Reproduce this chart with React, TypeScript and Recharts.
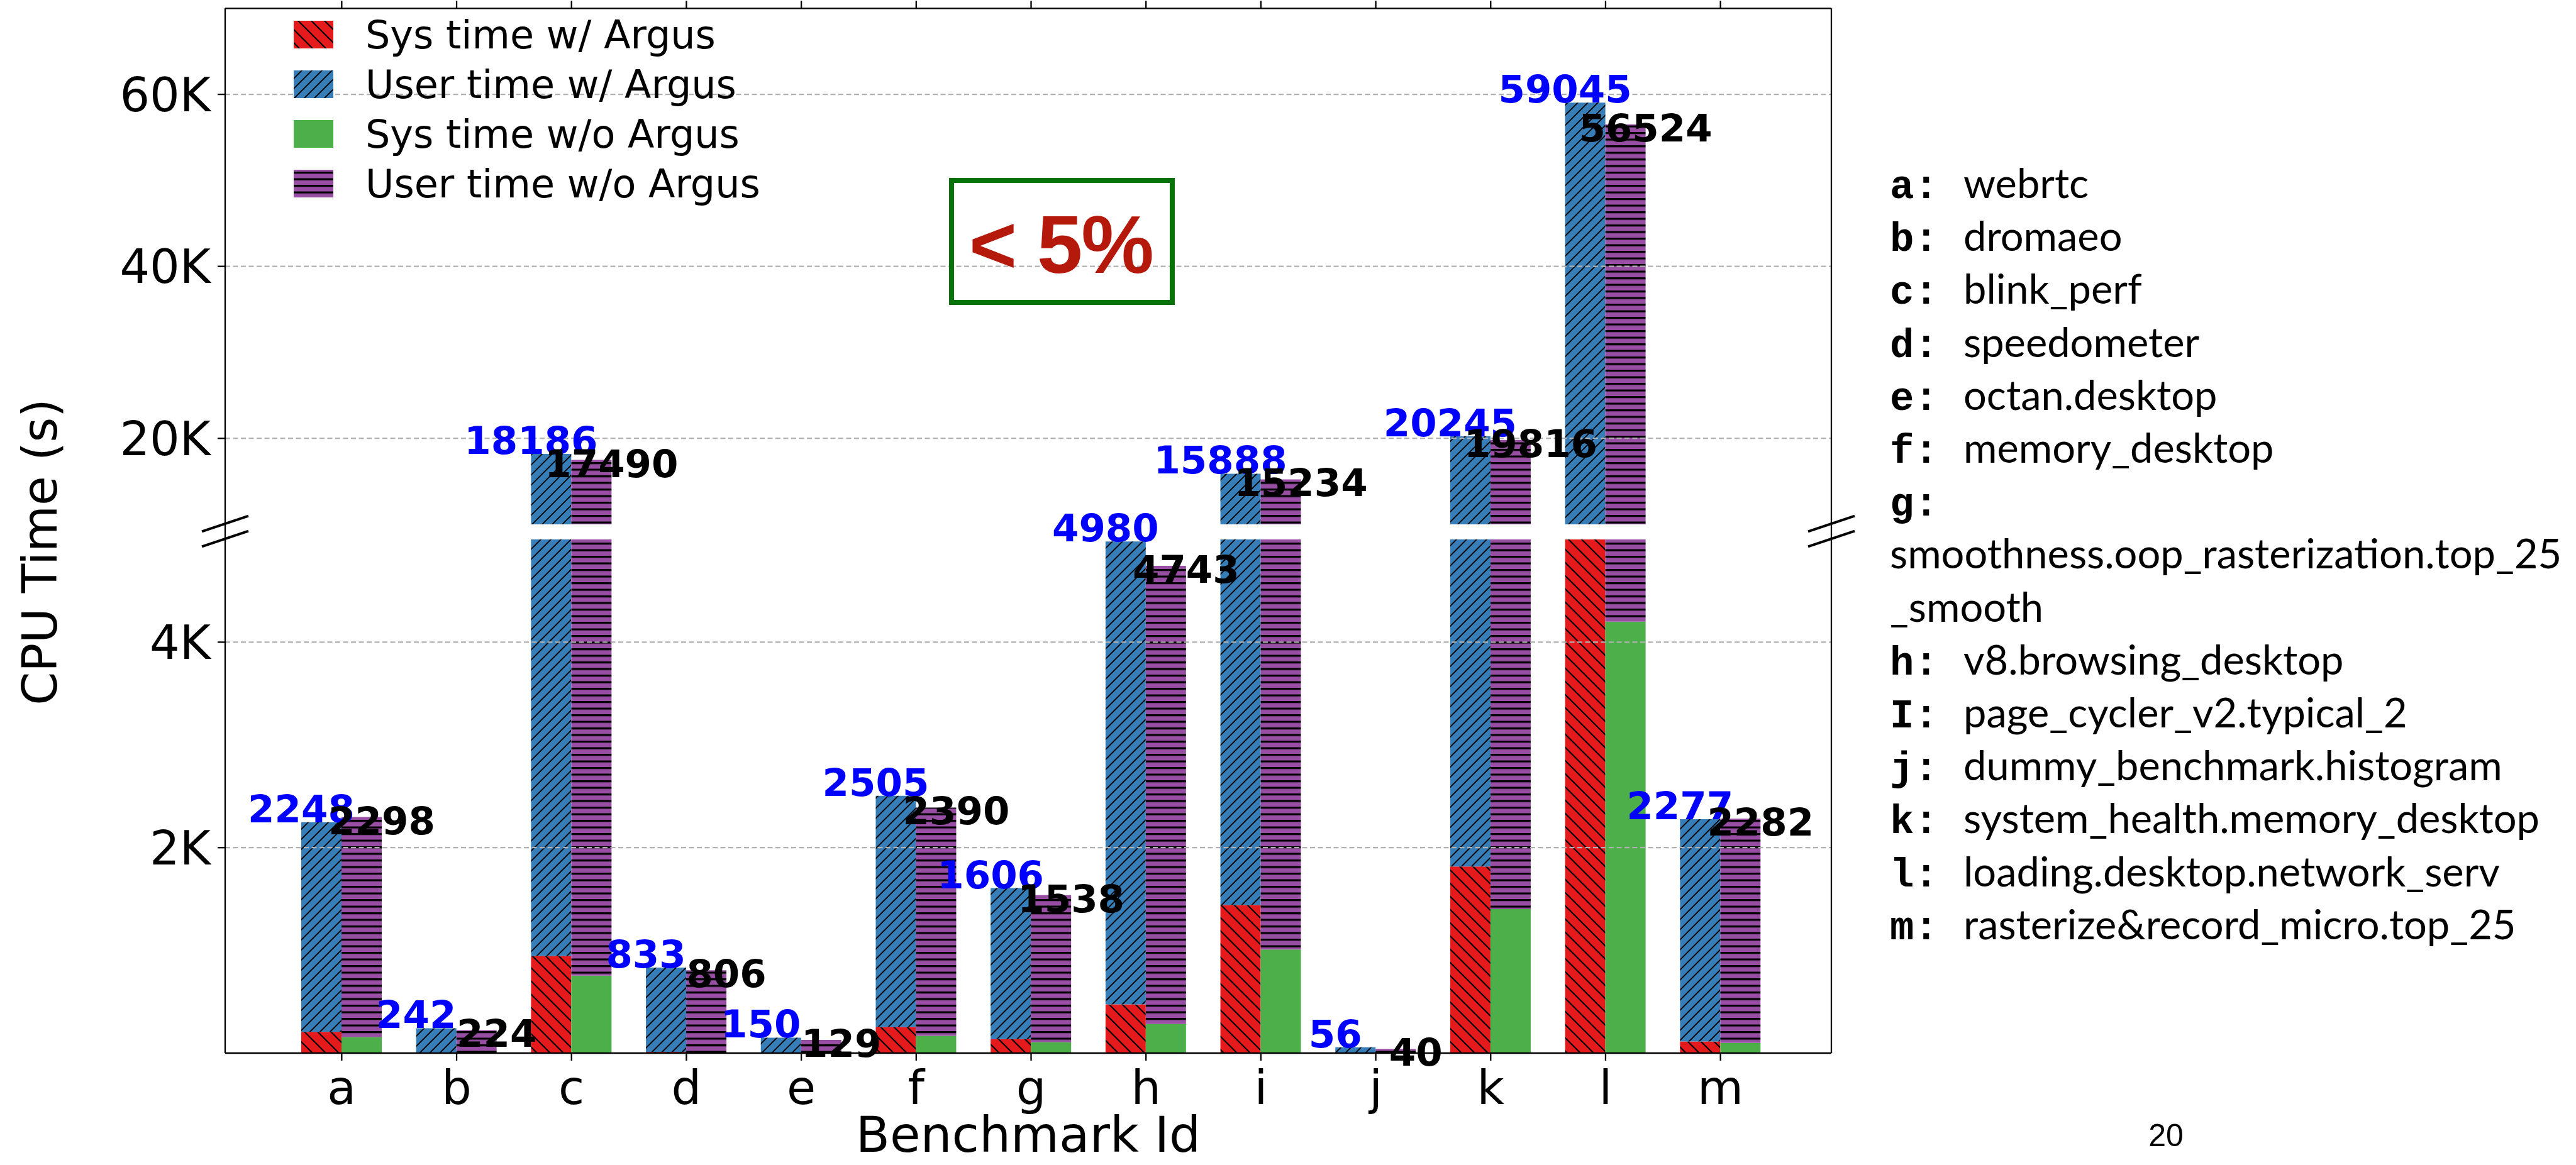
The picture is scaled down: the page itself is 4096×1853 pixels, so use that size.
import React from 'react';
import { BarChart, Bar, XAxis, YAxis, CartesianGrid, LabelList } from 'recharts';

// benchmark ids on the x axis
const benchmarkIds = ['a', 'b', 'c', 'd', 'e', 'f', 'g', 'h', 'i', 'j', 'k', 'l', 'm'];

// totals printed above the bars
const totalWithArgus = [2248, 242, 18186, 833, 150, 2505, 1606, 4980, 15888, 56, 20245, 59045, 2277];
const totalWithoutArgus = [2298, 224, 17490, 806, 129, 2390, 1538, 4743, 15234, 40, 19816, 56524, 2282];

// sys time parts
const sysWithArgus = [207, 0, 946, 13, 0, 254, 136, 475, 1441, 0, 1816, 6200, 113];
const sysWithoutArgus = [155, 0, 755, 0, 0, 168, 105, 283, 1009, 0, 1402, 4200, 100];

const seriesNames = ['Sys time w/ Argus', 'User time w/ Argus', 'Sys time w/o Argus', 'User time w/o Argus'];

const topDomain = [10000, 70000];
const bottomDomain = [0, 5000];
const topTicks = [20000, 40000, 60000];
const bottomTicks = [2000, 4000];

const legendKeys = ['a:', 'b:', 'c:', 'd:', 'e:', 'f:', 'g:', '', '', 'h:', 'I:', 'j:', 'k:', 'l:', 'm:'];
const legendNames = [
  'webrtc',
  'dromaeo',
  'blink_perf',
  'speedometer',
  'octan.desktop',
  'memory_desktop',
  '',
  'smoothness.oop_rasterization.top_25',
  '_smooth',
  'v8.browsing_desktop',
  'page_cycler_v2.typical_2',
  'dummy_benchmark.histogram',
  'system_health.memory_desktop',
  'loading.desktop.network_serv',
  'rasterize&record_micro.top_25',
];

const rows = benchmarkIds.map((id, i) => ({
  id,
  sysW: sysWithArgus[i],
  userW: totalWithArgus[i] - sysWithArgus[i],
  sysWo: sysWithoutArgus[i],
  userWo: totalWithoutArgus[i] - sysWithoutArgus[i],
  totalW: totalWithArgus[i],
  totalWo: totalWithoutArgus[i],
}));

// layout (px)
const CHART_W = 3000;
const PLOT_LEFT = 358;
const PLOT_RIGHT = 2912;
const TOP_Y0 = 13.3;
const TOP_Y1 = 834;
const BOT_Y0 = 858;
const BOT_Y1 = 1675;
const BOT_PAD = 100;
const X_AXIS_H = 178;
const TOP_AXIS_H = 12;
const BAR_W = 64;
const X_PAD = { left: 94, right: 85 };

const RED = '#e41a1c';
const BLUE = '#377eb8';
const GREEN = '#4daf4a';
const PURPLE = '#984ea3';
const GRID = '#b0b0b0';
const SANS = 'DejaVu Sans';

const tickStyle = { fontSize: 75, fill: '#000', fontFamily: SANS };
const lineStyle = { stroke: '#000', strokeWidth: 2.3 };
const kFormat = (v: number) => `${v / 1000}K`;

function makeLabel(lo: number, hi: number, color: string, side: 'left' | 'right') {
  return (props: any) => {
    const vb = props.viewBox ?? props;
    const x = Number(vb.x);
    const y = Number(vb.y);
    const w = Number(vb.width);
    const h = Number(vb.height);
    const v = Number(props.value);
    if (!(v >= lo && v <= hi)) return null;
    const top = h < 0 ? y + h : y;
    const cx = side === 'left' ? x : x + w;
    const dy = side === 'left' ? 0 : 27;
    return (
      <text x={cx} y={top + dy} textAnchor="middle" fill={color} fontSize={61} fontWeight="bold" fontFamily={SANS}>
        {v}
      </text>
    );
  };
}

function Panel({ which }: { which: 'top' | 'bottom' }) {
  const isTop = which === 'top';
  const domain = isTop ? topDomain : bottomDomain;
  const height = isTop ? TOP_Y1 : BOT_PAD + (BOT_Y1 - BOT_Y0) + X_AXIS_H;
  const margin = isTop
    ? { top: TOP_Y0 - TOP_AXIS_H, right: CHART_W - PLOT_RIGHT - 1, bottom: 0, left: 0 }
    : { top: BOT_PAD, right: CHART_W - PLOT_RIGHT - 1, bottom: 0, left: 0 };
  return (
    <BarChart width={CHART_W} height={height} data={rows} margin={margin} barGap={0} barSize={BAR_W}>
      {isTop ? (
        <XAxis
          dataKey="id"
          orientation="top"
          height={TOP_AXIS_H}
          padding={X_PAD}
          interval={0}
          tick={{ fontSize: 1, fill: 'none' }}
          tickFormatter={() => ''}
          tickSize={12}
          axisLine={lineStyle}
          tickLine={lineStyle}
        />
      ) : (
        <XAxis
          dataKey="id"
          orientation="bottom"
          height={X_AXIS_H}
          padding={X_PAD}
          interval={0}
          tick={tickStyle}
          tickSize={12}
          tickMargin={16}
          axisLine={lineStyle}
          tickLine={lineStyle}
        />
      )}
      <YAxis
        yAxisId="left"
        type="number"
        domain={domain}
        allowDataOverflow
        ticks={isTop ? topTicks : bottomTicks}
        interval={0}
        tickFormatter={kFormat}
        width={PLOT_LEFT}
        tickSize={12}
        tickMargin={11}
        tick={tickStyle}
        axisLine={lineStyle}
        tickLine={lineStyle}
      />
      <YAxis yAxisId="right" orientation="right" type="number" domain={[0, 1]} width={1} tick={false} tickLine={false} axisLine={lineStyle} />
      <Bar yAxisId="left" dataKey="sysW" stackId="w" fill="url(#hatchRed)" isAnimationActive={false} />
      <Bar yAxisId="left" dataKey="userW" stackId="w" fill="url(#hatchBlue)" isAnimationActive={false}>
        <LabelList dataKey="totalW" content={makeLabel(isTop ? 10000 : 0, isTop ? 1e9 : 5000, '#0000ff', 'left')} />
      </Bar>
      <Bar yAxisId="left" dataKey="sysWo" stackId="wo" fill={GREEN} isAnimationActive={false} />
      <Bar yAxisId="left" dataKey="userWo" stackId="wo" fill="url(#hatchPurple)" isAnimationActive={false}>
        <LabelList dataKey="totalWo" content={makeLabel(isTop ? 10000 : 0, isTop ? 1e9 : 5000, '#000000', 'right')} />
      </Bar>
      <CartesianGrid
        yAxisId="left"
        vertical={false}
        stroke={GRID}
        strokeDasharray="8 4.5"
        strokeWidth={2.3}
        syncWithTicks
        zIndex={450}
      />
    </BarChart>
  );
}

const legendFills = ['url(#hatchRed)', 'url(#hatchBlue)', GREEN, 'url(#hatchPurple)'];

function BreakMark({ x, y }: { x: number; y: number }) {
  return <line x1={x - 37} y1={y + 12.3} x2={x + 37} y2={y - 12.3} stroke="#000" strokeWidth={4} />;
}

export default function App() {
  return (
    <div style={{ position: 'absolute', left: 0, top: 0, width: 4096, height: 1853, background: '#fff', overflow: 'hidden' }}>
      <svg width={0} height={0} style={{ position: 'absolute' }}>
        <defs>
          <pattern id="hatchRed" patternUnits="userSpaceOnUse" width={21} height={21}>
            <rect width={21} height={21} fill={RED} />
            <path d="M-5,-5 L26,26 M-5,16 L5,26 M16,-5 L26,5" stroke="#000" strokeWidth={2.2} />
          </pattern>
          <pattern id="hatchBlue" patternUnits="userSpaceOnUse" width={16} height={16}>
            <rect width={16} height={16} fill={BLUE} />
            <path d="M-5,21 L21,-5 M-5,5 L5,-5 M11,21 L21,11" stroke="#000" strokeWidth={1.9} />
          </pattern>
          <pattern id="hatchPurple" patternUnits="userSpaceOnUse" width={10} height={10.5}>
            <rect width={10} height={10.5} fill={PURPLE} />
            <rect y={0} width={10} height={3.2} fill="#000" />
          </pattern>
        </defs>
      </svg>

      <div style={{ position: 'absolute', left: 0, top: 0 }}>
        <Panel which="top" />
      </div>
      <div style={{ position: 'absolute', left: 0, top: BOT_Y0 - BOT_PAD }}>
        <Panel which="bottom" />
      </div>

      <svg width={4096} height={1853} style={{ position: 'absolute', left: 0, top: 0, pointerEvents: 'none' }}>
        {/* spine continues across the break */}
        <line x1={PLOT_LEFT} y1={TOP_Y1} x2={PLOT_LEFT} y2={BOT_Y0} {...lineStyle} />
        <line x1={PLOT_RIGHT} y1={TOP_Y1} x2={PLOT_RIGHT} y2={BOT_Y0} {...lineStyle} />
        <BreakMark x={PLOT_LEFT} y={TOP_Y1 - 1} />
        <BreakMark x={PLOT_LEFT} y={BOT_Y0 - 1} />
        <BreakMark x={PLOT_RIGHT} y={TOP_Y1 - 1} />
        <BreakMark x={PLOT_RIGHT} y={BOT_Y0 - 1} />

        {/* legend */}
        {seriesNames.map((name, i) => (
          <g key={name}>
            <rect x={467} y={33 + i * 79} width={63} height={44} fill={legendFills[i]} />
            <text x={581} y={77 + i * 79} fontSize={62} fontFamily={SANS} fill="#000">
              {name}
            </text>
          </g>
        ))}

        {/* annotation */}
        <rect x={1513} y={287} width={351} height={194} fill="none" stroke="#0a720a" strokeWidth={8} />
        <text x={1687} y={434} textAnchor="middle" fontSize={130} fontWeight="bold" fontFamily="Liberation Sans" fill="#b5190b" letterSpacing={-2}>
          {'< 5%'}
        </text>

        {/* axis titles */}
        <text
          x={63}
          y={878}
          transform="rotate(-90 63 878)"
          textAnchor="middle"
          dominantBaseline="central"
          fontSize={76}
          fontFamily={SANS}
          fill="#000"
        >
          CPU Time (s)
        </text>
        <text x={(PLOT_LEFT + PLOT_RIGHT) / 2} y={1832} textAnchor="middle" fontSize={79} fontFamily={SANS} fill="#000">
          Benchmark Id
        </text>

        {/* benchmark name list */}
        {legendKeys.map((k, i) => (
          <g key={i}>
            {k && (
              <text x={3005} y={315 + i * 84.2} fontSize={64} fontWeight="bold" fontFamily="Liberation Mono" fill="#000">
                {k}
              </text>
            )}
            {legendNames[i] && (
              <text x={k ? 3122 : 3005} y={315 + i * 84.2} fontSize={65} fontFamily="Lato" fill="#000">
                {legendNames[i]}
              </text>
            )}
          </g>
        ))}

        <text x={3444} y={1823} textAnchor="middle" fontSize={50} fontFamily="Liberation Sans" fill="#000">
          20
        </text>
      </svg>
    </div>
  );
}
